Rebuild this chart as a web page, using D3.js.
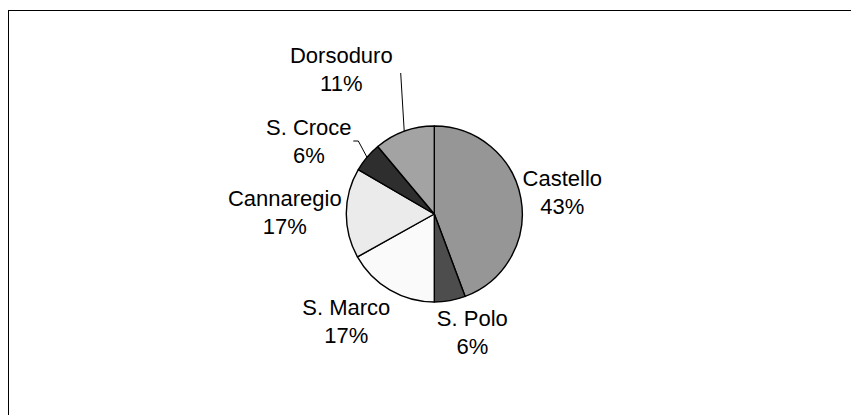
<!DOCTYPE html>
<html>
<head>
<meta charset="utf-8">
<script src="https://cdn.jsdelivr.net/npm/d3@7"></script>
<style>
  html, body { margin: 0; padding: 0; background: #fff; }
  svg { display: block; }
  text { font-family: "Liberation Sans", Arial, sans-serif; font-size: 22px; fill: #000; }
</style>
</head>
<body>
<svg id="chart" width="851" height="415"></svg>
<script>
// ---- data ----
const categories = ["Castello", "S. Polo", "S. Marco", "Cannaregio", "S. Croce", "Dorsoduro"];
const values = [44.3, 5.7, 16.9, 16.5, 5.5, 11.1];
const percentLabels = ["43%", "6%", "17%", "17%", "6%", "11%"];
const colors = ["#969696", "#4d4d4d", "#fafafa", "#ebebeb", "#2e2e2e", "#a3a3a3"];

// ---- layout ----
const W = 851, H = 415;
const cx = 434.3, cy = 214, R = 88;
// label anchor offsets relative to pie centre (first line baseline)
const labelOffsets = [
  [128, -28.5], [38, 112], [-88, 101], [-149.5, -8.3], [-125.5, -79], [-93, -151]
];
const lineGap = 28;

const svg = d3.select("#chart");
svg.append("rect").attr("width", W).attr("height", H).attr("fill", "#fff");
// chart area border (extends past the right/bottom edges)
svg.append("rect")
  .attr("x", 8.5).attr("y", 10.5)
  .attr("width", W + 20).attr("height", H + 20)
  .attr("fill", "none").attr("stroke", "#000").attr("stroke-width", 1);

const pie = d3.pie().sort(null).value(d => d.v).startAngle(0).endAngle(2 * Math.PI);
const arc = d3.arc().innerRadius(0).outerRadius(R);
const data = categories.map((c, i) => ({ c, v: values[i], p: percentLabels[i], col: colors[i], i }));
const arcs = pie(data);

const g = svg.append("g").attr("transform", `translate(${cx},${cy})`);
g.selectAll("path.slice").data(arcs).enter().append("path")
  .attr("class", "slice")
  .attr("d", arc)
  .attr("fill", d => d.data.col)
  .attr("stroke", "#000")
  .attr("stroke-width", 1.4)
  .attr("stroke-linejoin", "round");

// leader lines for the small top-left slices
function edgePoint(d) {
  const a = (d.startAngle + d.endAngle) / 2;
  return [R * Math.sin(a), -R * Math.cos(a)];
}
const croce = arcs[4], dors = arcs[5];
const pc = edgePoint(croce);
g.append("polyline")
  .attr("points", [[-81, -73], [-76, -73], pc].map(p => p.join(",")).join(" "))
  .attr("fill", "none").attr("stroke", "#000").attr("stroke-width", 1);
const pd = edgePoint(dors);
g.append("polyline")
  .attr("points", [[-33.6, -141], pd].map(p => p.join(",")).join(" "))
  .attr("fill", "none").attr("stroke", "#000").attr("stroke-width", 1);

// labels
const lab = g.selectAll("g.lab").data(arcs).enter().append("g").attr("class", "lab")
  .attr("transform", d => `translate(${labelOffsets[d.data.i][0]},${labelOffsets[d.data.i][1]})`);
lab.append("text").attr("text-anchor", "middle").attr("y", 0).text(d => d.data.c);
lab.append("text").attr("text-anchor", "middle").attr("y", lineGap).text(d => d.data.p);
</script>
</body>
</html>
